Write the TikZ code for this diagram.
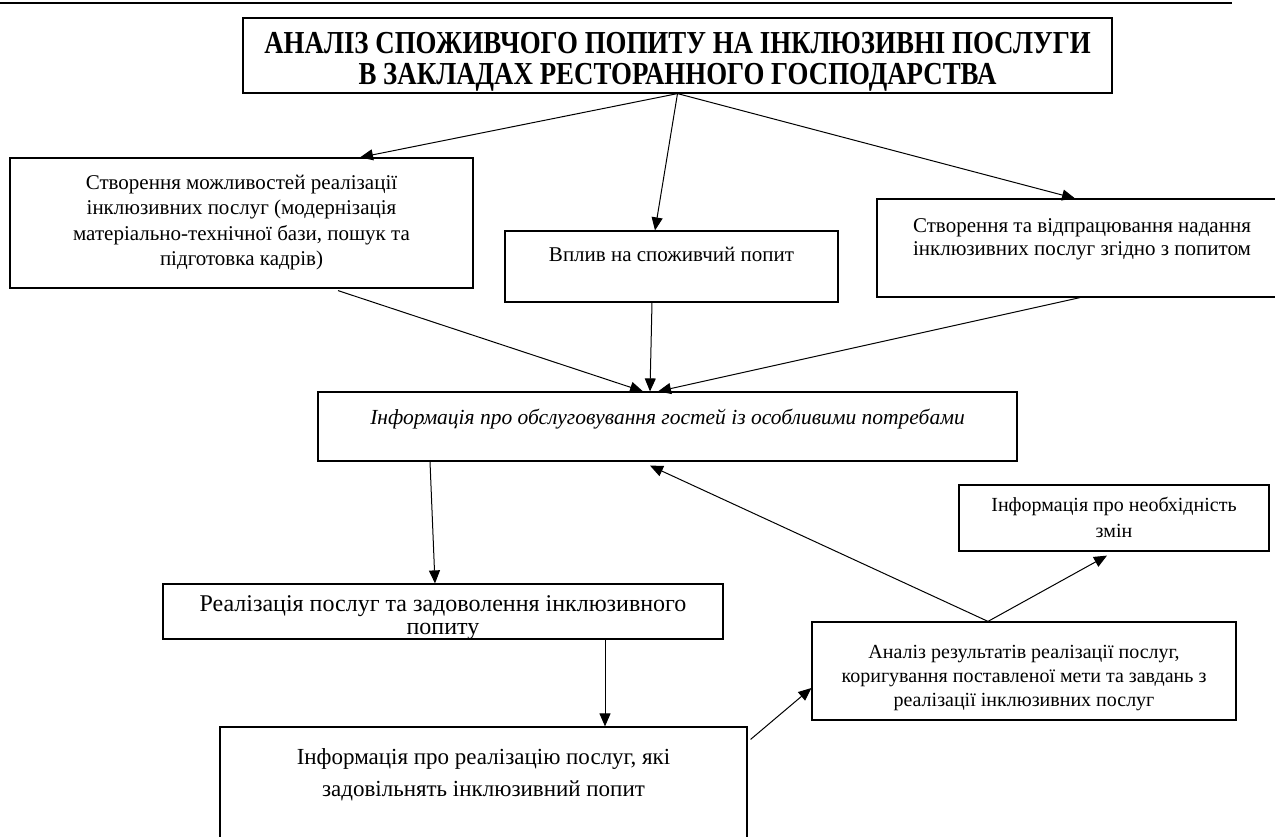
\documentclass[tikz,border=0pt]{standalone}
\usepackage{fontspec}
\usepackage{graphicx}
\setmainfont{Liberation Serif}
\usetikzlibrary{arrows.meta}

\newcommand{\cell}[4]{\parbox[c][#2][t]{#1}{\centering\vspace*{#3}\strut#4}}

\begin{document}
\begin{tikzpicture}[x=1pt,y=-1pt,
  box/.style={draw, inner sep=0pt, line width=1.2pt},
  arr/.style={-{Triangle[length=13pt,width=11pt]}, line width=1pt}]
\useasboundingbox (0,0) rectangle (1275,837);
\draw[line width=1.6pt] (0,3) -- (1232,3);

\node(title) [box, font=\bfseries\fontsize{32}{29}\selectfont] at (677.5,55.5)
  {\scalebox{0.84}[1]{\cell{1034.5pt}{75pt}{14.5pt}{АНАЛІЗ СПОЖИВЧОГО ПОПИТУ НА ІНКЛЮЗИВНІ ПОСЛУГИ\\ В ЗАКЛАДАХ РЕСТОРАННОГО ГОСПОДАРСТВА}}};
\node(create) [box, font=\fontsize{21}{25.5}\selectfont] at (241.5,223)
  {\cell{463pt}{130pt}{13.4pt}{Створення можливостей реалізації\\ інклюзивних послуг (модернізація\\ матеріально-технічної бази, пошук та\\ підготовка кадрів)}};
\node(vplyv) [box, font=\fontsize{21}{24}\selectfont] at (671.5,266.5)
  {\cell{333pt}{71pt}{13.5pt}{Вплив на споживчий попит}};
\node(vidprac) [box, font=\fontsize{21}{23}\selectfont] at (1082,248)
  {\cell{410pt}{98pt}{17.2pt}{Створення та відпрацювання надання\\ інклюзивних послуг згідно з попитом}};
\node(info) [box, font=\itshape\fontsize{21.5}{24}\selectfont] at (667.5,426.5)
  {\cell{699pt}{69pt}{15.6pt}{Інформація про обслуговування гостей із особливими потребами}};
\node(realiz) [box, font=\fontsize{24}{23}\selectfont] at (443,611.5)
  {\cell{560pt}{55pt}{11.4pt}{Реалізація послуг та задоволення інклюзивного\\ попиту}};
\node(realinfo) [box, font=\fontsize{23}{32}\selectfont] at (483.5,792)
  {\cell{527pt}{130pt}{15.5pt}{Інформація про реалізацію послуг, які\\ задовільнять інклюзивний попит}};
\node(analiz) [box, font=\fontsize{20}{24}\selectfont] at (1024,671)
  {\cell{424pt}{98pt}{19.2pt}{Аналіз результатів реалізації послуг,\\ коригування поставленої мети та завдань з\\ реалізації інклюзивних послуг}};
\node(chg) [box, font=\fontsize{20}{26}\selectfont] at (1114,518)
  {\cell{310pt}{66pt}{7.8pt}{Інформація про необхідність\\ змін}};

\draw[arr] (title.south) -- ([xshift=118.5pt]create.north);
\draw[arr] (title.south) -- ([xshift=-16.5pt]vplyv.north);
\draw[arr] (title.south) -- ([xshift=-7pt]vidprac.north);
\draw[arr] ([xshift=96.5pt,yshift=-2pt]create.south) -- ([xshift=-24.5pt]info.north);
\draw[arr] ([xshift=-19.5pt]vplyv.south) -- ([xshift=-17.5pt]info.north);
\draw[arr] ([xshift=-2pt]vidprac.south) -- ([xshift=-9.5pt]info.north);
\draw[arr] ([xshift=-237.5pt]info.south) -- ([xshift=-8pt]realiz.north);
\draw[arr] ([xshift=162pt]realiz.south) -- ([xshift=121.5pt]realinfo.north);
\draw[arr] ([xshift=3pt,yshift=-13pt]realinfo.north east) -- ([yshift=-17pt]analiz.west);
\draw[arr] ([xshift=-36pt]analiz.north) -- ([xshift=-17.5pt,yshift=-4pt]info.south);
\draw[arr] ([xshift=-36pt]analiz.north) -- ([xshift=-7pt,yshift=-4pt]chg.south);
\end{tikzpicture}
\end{document}
